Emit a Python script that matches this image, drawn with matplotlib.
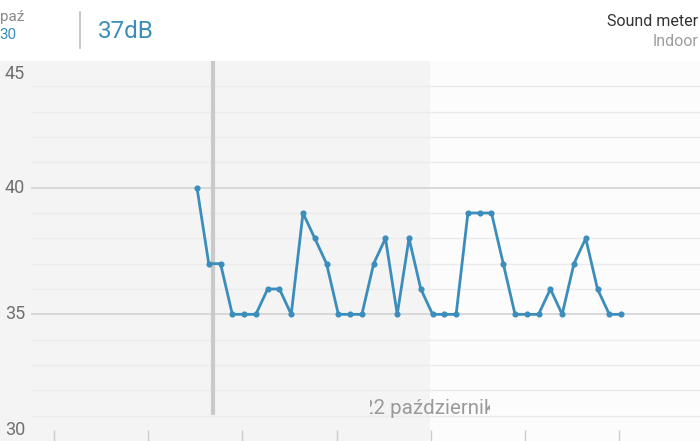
import matplotlib
matplotlib.use("Agg")
import matplotlib.pyplot as plt
import matplotlib.transforms as mtransforms
from matplotlib.patches import Rectangle

plt.rcParams['font.family'] = ['Roboto', 'DejaVu Sans']

# ---- data ----
values = [40, 37, 37, 35, 35, 35, 36, 36, 35, 39, 38, 37, 35, 35, 35, 37, 38, 35,
          38, 36, 35, 35, 35, 39, 39, 39, 37, 35, 35, 35, 36, 35, 37, 38, 36, 35, 35]
positions = list(range(len(values)))
y_ticks = [45, 40, 35, 30]
x_ticks = [-12.15, -4.15, 3.85, 11.85, 19.85, 27.85, 35.85]
cursor_pos = 1.36
history_end = 19.78
date_label = "22 październik"
current_value = "37dB"
device_name = "Sound meter"
room_name = "Indoor"

W, H = 700, 441
fig = plt.figure(figsize=(W / 100, H / 100), dpi=100)
fig.patch.set_facecolor('white')

plot_top_px = 61
ax = fig.add_axes([0, 0, 1, (H - plot_top_px) / H])
ax.set_xlim(-16.72, 42.70)
ax.set_ylim(30, 45)
ax.set_facecolor('#fcfcfc')
for s in ax.spines.values():
    s.set_visible(False)
ax.set_xticks([])
ax.set_yticks([])

# shaded history region
ax.axvspan(-16.72, history_end, color='#f4f4f4', zorder=0, lw=0)

# grid lines
grid_x0 = 32 / W
for v in range(31, 45):
    major = v in y_ticks
    ax.axhline(v, xmin=grid_x0, xmax=1, color='#d6d6d6' if major else '#ebebeb',
               lw=1.3 if major else 1.0, zorder=1)

# y labels
ytr = mtransforms.blended_transform_factory(fig.transFigure, ax.transData)
offsets = {45: -13, 40: 0, 35: 0, 30: 11}
for v in y_ticks:
    ax.text(25 / W, v, str(v),
            transform=ytr + mtransforms.ScaledTranslation(0, offsets[v] / 100, fig.dpi_scale_trans),
            ha='right', va='center', fontsize=13, color='#707070')

# bottom ticks
ax.vlines(x_ticks, 30, 30 + 11 / 25.33, color='#cccccc', lw=1.0, zorder=2)

# cursor line
ax.vlines([cursor_pos], 30 + 26 / 25.33, 45, color='#c9c9c9', lw=3, zorder=2)

# data line
ax.plot(positions, values, color='#3b8dbb', lw=2.0, marker='o', ms=3.4,
        zorder=4, solid_joinstyle='round')

# clipped date label
t = ax.text(14.0, 31.0, date_label, ha='left', va='center', fontsize=14.8,
            color='#9a9a9a', zorder=3,
            transform=ax.transData + mtransforms.ScaledTranslation(0, 7 / 100, fig.dpi_scale_trans))
clip = Rectangle((370 / W, 0), 120 / W, 0.3, transform=fig.transFigure, visible=False)
fig.add_artist(clip)
t.set_clip_path(clip)
t.set_clip_on(True)

# header
fig.text(24 / W, 1 - 17 / H, "paź", ha='right', va='center', fontsize=11, color='#8a8a8a')
fig.text(16 / W, 1 - 35 / H, "30", ha='right', va='center', fontsize=11, color='#3b8dbb')
fig.add_artist(plt.Line2D([80 / W, 80 / W], [1 - 12 / H, 1 - 48 / H], color='#bdbdbd', lw=1.2))
fig.text(98 / W, 1 - 32 / H, current_value, ha='left', va='center', fontsize=17.5, color='#3b8dbb')
fig.text(698 / W, 1 - 21 / H, device_name, ha='right', va='center', fontsize=11.5, color='#333333')
fig.text(698 / W, 1 - 42 / H, room_name, ha='right', va='center', fontsize=11.5, color='#9e9e9e')

fig.savefig('out.png', dpi=100, facecolor='white')
